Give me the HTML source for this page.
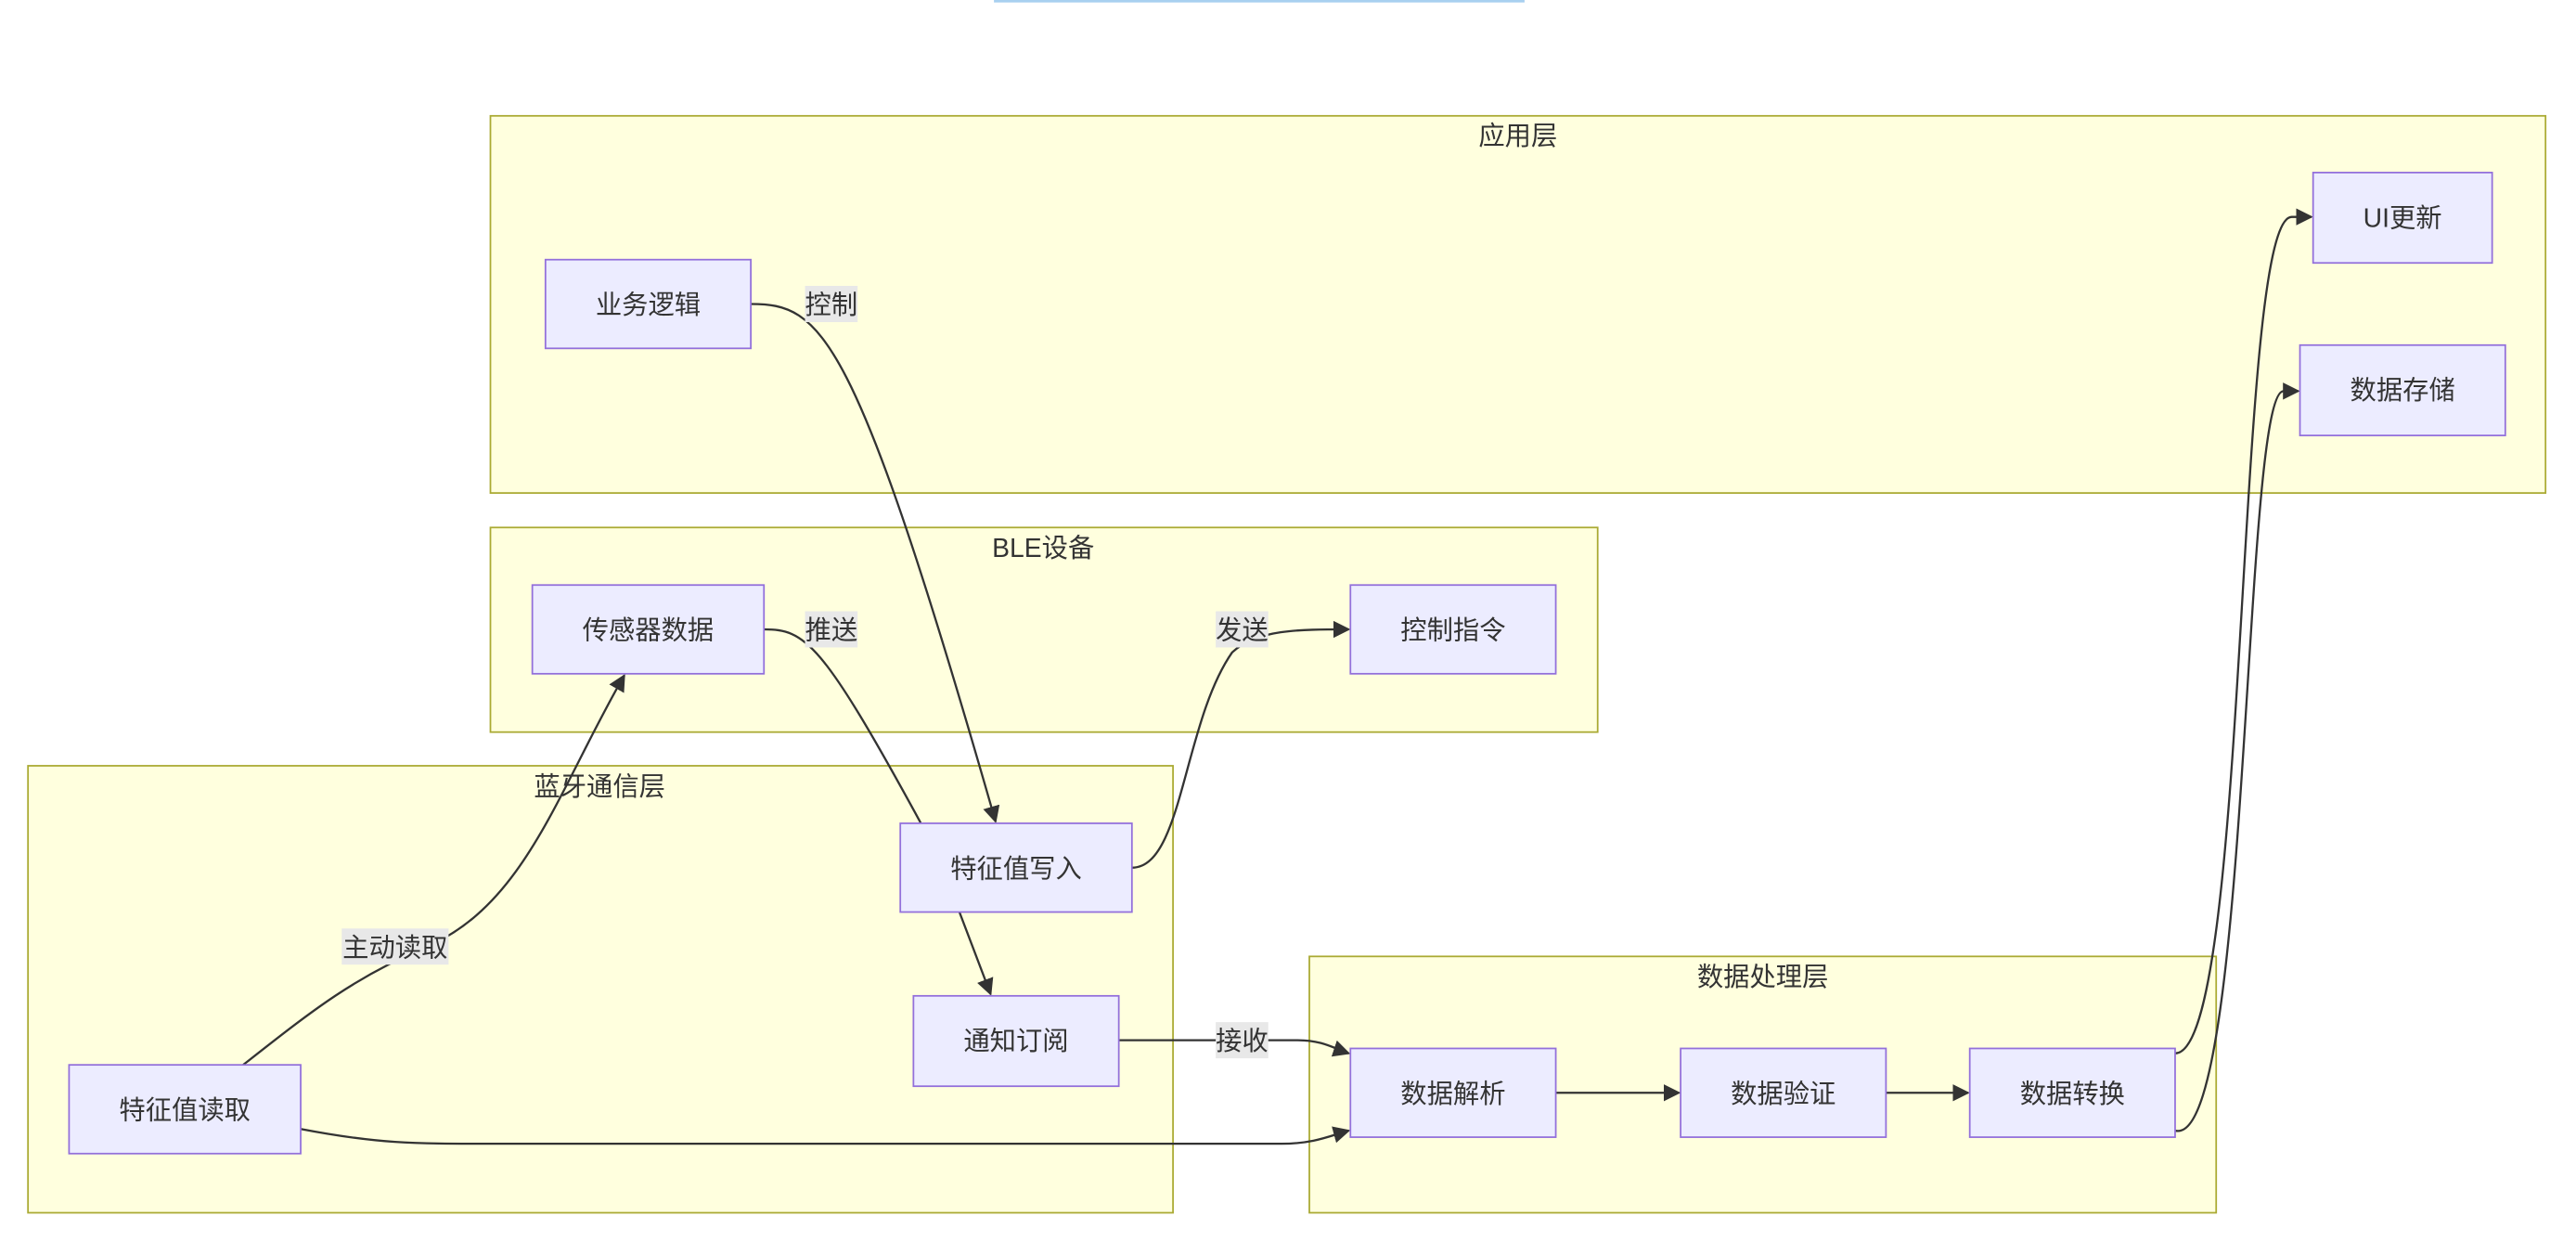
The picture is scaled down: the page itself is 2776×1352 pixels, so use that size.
<!DOCTYPE html>
<html><head><meta charset="utf-8"><style>
html,body{margin:0;padding:0;background:#fff;}
svg{display:block;}
text{font-family:"Liberation Sans","Noto Sans CJK SC",sans-serif;fill:#333;}
</style></head><body>
<svg width="2776" height="1352" viewBox="0 0 1568 763.7" xmlns="http://www.w3.org/2000/svg">
<defs><marker id="a" viewBox="0 0 10 10" refX="9" refY="5" markerWidth="8" markerHeight="8" orient="auto"><path d="M0,0L10,5L0,10z" fill="#333"/></marker></defs>
<rect x="605" y="0" width="323" height="1.5" fill="#a8d0f0"/>
<g fill="#ffffde" stroke="#aaaa33" stroke-width="1">
<rect x="298.5" y="70.5" width="1251" height="229.5"/>
<rect x="298.5" y="321" width="674" height="124.5"/>
<rect x="17" y="466" width="697" height="272"/>
<rect x="797" y="582" width="552" height="156"/>
</g>
<g font-size="16" text-anchor="middle">
<text x="924" y="88">应用层</text>
<text x="635" y="339">BLE设备</text>
<text x="365" y="484">蓝牙通信层</text>
<text x="1073" y="600">数据处理层</text>
</g>
<g fill="none" stroke="#333" stroke-width="1.3">
<path d="M457,185 C500,185 520,200 606,500" marker-end="url(#a)"/>
<path d="M465,383 C490,383 500,390 560,500 L584,555 L603,605" marker-end="url(#a)"/>
<path d="M689,528 C720,528 720,440 750,397 C765,383 790,383 821,383" marker-end="url(#a)"/>
<path d="M148,648 C190,615 215,595 260,576 C320,550 340,480 380,411" marker-end="url(#a)"/>
<path d="M681,633 L790,633 C805,633 812,638 821,641" marker-end="url(#a)"/>
<path d="M183,687 C230,696 250,696 300,696 L780,696 C800,696 810,691 821,688" marker-end="url(#a)"/>
<path d="M947,665 L1022,665" marker-end="url(#a)"/>
<path d="M1148,665 L1198,665" marker-end="url(#a)"/>
<path d="M1324,641 C1370,641 1360,132 1395,132 L1407,132" marker-end="url(#a)"/>
<path d="M1324,688 C1370,700 1365,238 1390,238 L1399,238" marker-end="url(#a)"/>
</g>
<g fill="#e8e8e8">
<rect x="490" y="174" width="32" height="22"/>
<rect x="490" y="372" width="32" height="22"/>
<rect x="740" y="372" width="32" height="22"/>
<rect x="208" y="565" width="65" height="22"/>
<rect x="740" y="622" width="32" height="22"/>
</g>
<g font-size="16" text-anchor="middle">
<text x="506" y="191">控制</text>
<text x="506" y="389">推送</text>
<text x="756" y="389">发送</text>
<text x="240.5" y="582">主动读取</text>
<text x="756" y="639">接收</text>
</g>
<g fill="#ececff" stroke="#9370db" stroke-width="1">
<rect x="332" y="158" width="125" height="54"/>
<rect x="1408" y="105" width="109" height="55"/>
<rect x="1400" y="210" width="125" height="55"/>
<rect x="324" y="356" width="141" height="54"/>
<rect x="822" y="356" width="125" height="54"/>
<rect x="548" y="501" width="141" height="54"/>
<rect x="556" y="606" width="125" height="55"/>
<rect x="42" y="648" width="141" height="54"/>
<rect x="822" y="638" width="125" height="54"/>
<rect x="1023" y="638" width="125" height="54"/>
<rect x="1199" y="638" width="125" height="54"/>
</g>
<g font-size="16" text-anchor="middle">
<text x="394.5" y="191">业务逻辑</text>
<text x="1462.5" y="138">UI更新</text>
<text x="1462.5" y="243">数据存储</text>
<text x="394.5" y="389">传感器数据</text>
<text x="884.5" y="389">控制指令</text>
<text x="618.5" y="534">特征值写入</text>
<text x="618.5" y="639">通知订阅</text>
<text x="112.5" y="681">特征值读取</text>
<text x="884.5" y="671">数据解析</text>
<text x="1085.5" y="671">数据验证</text>
<text x="1261.5" y="671">数据转换</text>
</g>
</svg>
</body></html>
